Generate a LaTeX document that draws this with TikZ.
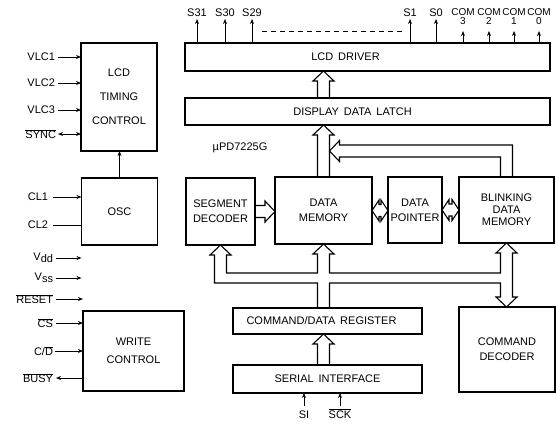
\documentclass[tikz,border=0pt]{standalone}
\usepackage{fontspec}
\setmainfont{Liberation Sans}[WordSpace=1.6]
\usetikzlibrary{arrows.meta,calc}

\begin{document}
\begin{tikzpicture}[
  x=1pt, y=-1pt,
  font=\fontsize{11}{13}\selectfont,
  every node/.style={inner sep=0pt, outer sep=0pt},
  block/.style={draw, line width=1.4pt, align=center},
  sig/.style={line width=0.9pt, -{Stealth[length=5pt, width=4pt]}},
  twoway/.style={line width=0.9pt, {Stealth[length=5pt, width=4pt]}-{Stealth[length=5pt, width=4pt]}},
  bus/.style={line width=1.1pt},
  com/.style={anchor=north, align=center, font=\fontsize{10}{9}\selectfont}
]
\useasboundingbox (0,0) rectangle (556,428);

% Bus arrows: half shaft, half head, head length (short head for the twin ones).
\def\bw{6}
\def\hw{10.5}
\def\hl{10}
\def\hs{7}

% Blocks, placed by pixel centre of the data sheet drawing.
\node[block, minimum width=76, minimum height=108] (timing) at (119,97) {\\[-6pt]LCD\\[11pt]TIMING\\[11pt]CONTROL};
\node[block, minimum width=76, minimum height=67] (osc) at (119.5,211.5) {OSC};
\node[block, minimum width=101, minimum height=80] (write) at (133.5,351) {WRITE\\[5pt]CONTROL};

\node[block, minimum width=365, minimum height=28, label={[xshift=-22]center:LCD DRIVER}] (driver) at (367.5,57) {};
\node[block, minimum width=365, minimum height=27, label={[xshift=-15]center:DISPLAY DATA LATCH}] (latch) at (367.5,111.5) {};

\node[block, minimum width=69, minimum height=67] (segdec) at (220.5,211.5) {SEGMENT\\[2pt]DECODER};
\node[block, minimum width=97, minimum height=67] (datamem) at (323.5,210.5) {DATA\\[2pt]MEMORY};
\node[block, minimum width=54, minimum height=66] (pointer) at (415,210) {DATA\\[2pt]POINTER};
\node[block, minimum width=95, minimum height=66] (blink) at (506.5,210) {BLINKING\\[-1pt]DATA\\[-1pt]MEMORY};

\node[block, minimum width=189, minimum height=26, label={[xshift=-6]center:COMMAND/DATA REGISTER}] (cdreg) at (327.5,321) {};
\node[block, minimum width=189, minimum height=28] (serial) at (327.5,379) {SERIAL INTERFACE};
\node[block, minimum width=96, minimum height=85] (cmddec) at (507,349.5) {COMMAND\\[2pt]DECODER};

\node (chip) at (240,148) {µPD7225G};

% Pins on the left
\node[anchor=east] (vlc1) at (55,57) {VLC1};
\node[anchor=east] (vlc2) at (55,83) {VLC2};
\node[anchor=east] (vlc3) at (55,110) {VLC3};
\node[anchor=east] (sync) at (56,134) {$\overline{\mbox{SYNC}}$};
\node[anchor=east] (cl1) at (48,197) {CL1};
\node[anchor=east] (cl2) at (48,225) {CL2};
\node[anchor=east] (vdd) at (53,258) {V\raisebox{-1.5pt}{dd}};
\node[anchor=east] (vss) at (53,278) {V\raisebox{-1.5pt}{ss}};
\node[anchor=east] (reset) at (53,299) {$\overline{\mbox{RESET}}$};
\node[anchor=east] (cs) at (53,323) {$\overline{\mbox{CS}}$};
\node[anchor=east] (cd) at (53,351) {C/$\overline{\mbox{D}}$};
\node[anchor=east] (busy) at (53,378) {$\overline{\mbox{BUSY}}$};

\draw[sig] ($(vlc1.east)+(3,0)$) -- (vlc1 -| timing.west);
\draw[sig] ($(vlc2.east)+(3,0)$) -- (vlc2 -| timing.west);
\draw[sig] ($(vlc3.east)+(3,0)$) -- (vlc3 -| timing.west);
\draw[twoway] ($(sync.east)+(2,0)$) -- (sync -| timing.west);
\draw[sig] ($(cl1.east)+(5,0)$) -- (cl1 -| osc.west);
\draw[line width=0.9pt] ($(cl2.east)+(5,0)$) -- (cl2 -| osc.west);
\draw[sig] ($(vdd.east)+(3,0)$) -- (vdd -| osc.west);
\draw[sig] ($(vss.east)+(3,0)$) -- (vss -| osc.west);
\draw[sig] ($(reset.east)+(3,0)$) -- (reset -| write.west);
\draw[sig] ($(cs.east)+(3,0)$) -- (cs -| write.west);
\draw[sig] ($(cd.east)+(2,0)$) -- (cd -| write.west);
\draw[sig] (busy -| write.west) -- ($(busy.east)+(3,0)$);
\draw[sig] (osc.north) -- (osc.north |- timing.south);

% Segment and common outputs on top
\node[anchor=south] (s31) at (197,17) {S31};
\node[anchor=south] (s30) at (225,17) {S30};
\node[anchor=south] (s29) at (252,17) {S29};
\node[anchor=south] (s1) at (410,17) {S1};
\node[anchor=south] (s0) at (436,17) {S0};
\node[com] (com3) at (463,9) {COM\\3};
\node[com] (com2) at (489,9) {COM\\2};
\node[com] (com1) at (514,9) {COM\\1};
\node[com] (com0) at (539,9) {COM\\0};

\draw[sig] (s31 |- driver.north) -- ($(s31.south)+(0,2)$);
\draw[sig] (s30 |- driver.north) -- ($(s30.south)+(0,2)$);
\draw[sig] (s29 |- driver.north) -- ($(s29.south)+(0,2)$);
\draw[sig] (s1 |- driver.north) -- ($(s1.south)+(0,2)$);
\draw[sig] (s0 |- driver.north) -- ($(s0.south)+(0,2)$);
\draw[sig] (com3 |- driver.north) -- ($(com3.south)+(0,6)$);
\draw[sig] (com2 |- driver.north) -- ($(com2.south)+(0,6)$);
\draw[sig] (com1 |- driver.north) -- ($(com1.south)+(0,6)$);
\draw[sig] (com0 |- driver.north) -- ($(com0.south)+(0,6)$);
\draw[line width=0.9pt, dash pattern=on 5pt off 4pt] (262,31) -- (402,31);

% Latch to driver, memory to latch
\draw[bus] ($(latch.north -| datamem.north)+(-\bw,0)$) -- ($(driver.south -| datamem.north)+(-\bw,\hl)$)
  -- ++(\bw-\hw,0) -- (driver.south -| datamem.north) -- ++(\hw,\hl) -- ++(\bw-\hw,0)
  -- ($(latch.north -| datamem.north)+(\bw,0)$);
\draw[bus] ($(datamem.north)+(-\bw,0)$) -- ($(latch.south -| datamem.north)+(-\bw,\hl)$)
  -- ++(\bw-\hw,0) -- (latch.south -| datamem.north) -- ++(\hw,\hl) -- ++(\bw-\hw,0)
  -- ($(datamem.north)+(\bw,0)$);

% Blinking memory joins the latch bus from the right
\coordinate (join) at ($(datamem.north)+(\bw,-26)$);
\draw[bus] ($(blink.north)+(\bw,0)$) |- ($(join)+(\hl,-\bw)$) -- ++(0,\bw-\hw) -- (join)
  -- ++(\hl,\hw) -- ++(0,\bw-\hw) -| ($(blink.north)+(-\bw,0)$);

% Decoder to memory, pointer both ways
\draw[bus] ($(segdec.east)+(0,-\bw)$) -- ($(datamem.west |- segdec.east)+(-\hl,-\bw)$)
  -- ++(0,\bw-\hw) -- (datamem.west |- segdec.east) -- ++(-\hl,\hw) -- ++(0,\bw-\hw)
  -- ($(segdec.east)+(0,\bw)$);
\draw[bus] (datamem.east) -- ++(\hs,-\hw) -- ++(0,\hw-\bw) -- ($(pointer.west |- datamem.east)+(-\hs,-\bw)$)
  -- ++(0,\bw-\hw) -- (pointer.west |- datamem.east) -- ++(-\hs,\hw) -- ++(0,\bw-\hw)
  -- ($(datamem.east)+(\hs,\bw)$) -- ++(0,\hw-\bw) -- cycle;
\draw[bus] (pointer.east) -- ++(\hs,-\hw) -- ++(0,\hw-\bw) -- ($(blink.west |- pointer.east)+(-\hs,-\bw)$)
  -- ++(0,\bw-\hw) -- (blink.west |- pointer.east) -- ++(-\hs,\hw) -- ++(0,\bw-\hw)
  -- ($(pointer.east)+(\hs,\bw)$) -- ++(0,\hw-\bw) -- cycle;

% Internal bus from the command/data register
\coordinate (inner) at ($(datamem.south)+(0,29)$);
\coordinate (outer) at ($(datamem.south)+(0,39)$);
\draw[bus]
  ($(cdreg.north -| datamem.south)+(-\bw,0)$) |- ($(outer -| segdec.south)+(-\bw,0)$)
  -- ($(segdec.south)+(-\bw,\hl)$) -- ++(\bw-\hw,0) -- (segdec.south) -- ++(\hw,\hl) -- ++(\bw-\hw,0)
  |- ($(inner -| datamem.south)+(-\bw,0)$)
  -- ($(datamem.south)+(-\bw,\hl)$) -- ++(\bw-\hw,0) -- (datamem.south) -- ++(\hw,\hl) -- ++(\bw-\hw,0)
  |- ($(inner -| blink.south)+(-\bw,0)$)
  -- ($(blink.south)+(-\bw,\hl)$) -- ++(\bw-\hw,0) -- (blink.south) -- ++(\hw,\hl) -- ++(\bw-\hw,0)
  -- ($(cmddec.north -| blink.south)+(\bw,-\hl)$) -- ++(\hw-\bw,0) -- (cmddec.north -| blink.south)
  -- ++(-\hw,-\hl) -- ++(\hw-\bw,0)
  |- ($(outer -| datamem.south)+(\bw,0)$)
  -- ($(cdreg.north -| datamem.south)+(\bw,0)$);

% Serial interface up into the register
\draw[bus] ($(serial.north -| datamem.south)+(-\bw,0)$) -- ($(cdreg.south -| datamem.south)+(-\bw,\hl)$)
  -- ++(\bw-\hw,0) -- (cdreg.south -| datamem.south) -- ++(\hw,\hl) -- ++(\bw-\hw,0)
  -- ($(serial.north -| datamem.south)+(\bw,0)$);

% Serial inputs
\node[anchor=base] (si) at (304,418) {SI};
\node[anchor=base] (sck) at (340,418) {$\overline{\mbox{SCK}}$};
\draw[sig] ($(si |- serial.south)+(0,13)$) -- (si |- serial.south);
\draw[sig] ($(sck |- serial.south)+(0,13)$) -- (sck |- serial.south);

\end{tikzpicture}
\end{document}
